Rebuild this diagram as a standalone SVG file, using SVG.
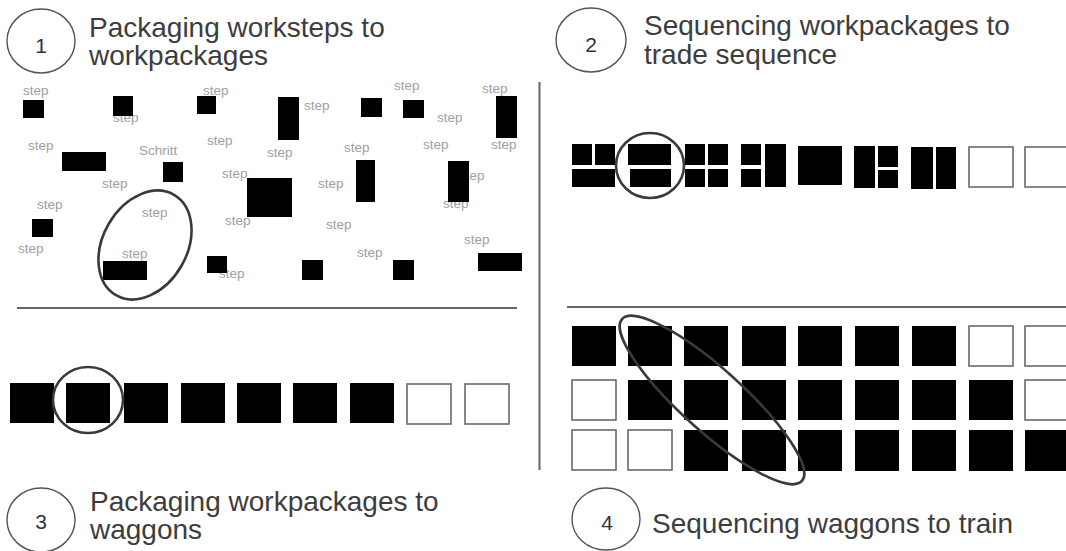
<svg xmlns="http://www.w3.org/2000/svg" width="1066" height="551" viewBox="0 0 1066 551">
<style>
.bg{fill:#ffffff}
.num{fill:none;stroke:#555;stroke-width:1.4}
.numt{font-family:"Liberation Sans",Arial,sans-serif;font-size:21px;fill:#333;text-anchor:middle}
.title{font-family:"Liberation Sans",Arial,sans-serif;font-size:28px;fill:#3d3d3d}
.step{font-family:"Liberation Sans",Arial,sans-serif;font-size:13.5px;fill:#a0a0a0}
.blk{fill:#000}
.wht{fill:#fff;stroke:#6a6a6a;stroke-width:1.6}
.sep{stroke:#666;stroke-width:2;fill:none}
.ring{fill:none;stroke:#3a3a3a;stroke-width:2.6}
</style>
<rect class="bg" x="0" y="0" width="1066" height="551"/>

<g id="header1">
<ellipse class="num" cx="41" cy="41" rx="34" ry="32"/>
<text class="numt" x="41" y="53">1</text>
<text class="title" x="89" y="37">Packaging  worksteps to</text>
<text class="title" x="89" y="65">workpackages</text>
</g>
<g id="header2">
<ellipse class="num" cx="591" cy="40" rx="35" ry="32"/>
<text class="numt" x="591" y="52">2</text>
<text class="title" x="644" y="35">Sequencing workpackages to</text>
<text class="title" x="644" y="64">trade sequence</text>
</g>
<g id="header3">
<ellipse class="num" cx="41" cy="520" rx="34" ry="32"/>
<text class="numt" x="41" y="529">3</text>
<text class="title" x="90" y="511">Packaging workpackages to</text>
<text class="title" x="90" y="539">waggons</text>
</g>
<g id="header4">
<ellipse class="num" cx="606" cy="519" rx="34" ry="31"/>
<text class="numt" x="607" y="530">4</text>
<text class="title" x="652" y="533">Sequencing waggons to train</text>
</g>

<g id="separators">
<line class="sep" x1="17" y1="308" x2="517" y2="308"/>
<line class="sep" x1="567" y1="307" x2="1066" y2="307"/>
<line class="sep" x1="539.5" y1="82" x2="539.5" y2="470"/>
</g>

<g id="panel1">
<g id="steps">
<text class="step" x="23" y="95">step</text>
<text class="step" x="113" y="122">step</text>
<text class="step" x="203" y="95">step</text>
<text class="step" x="28" y="150">step</text>
<text class="step" x="139" y="155">Schritt</text>
<text class="step" x="207" y="145">step</text>
<text class="step" x="222" y="178">step</text>
<text class="step" x="394" y="90">step</text>
<text class="step" x="304" y="110">step</text>
<text class="step" x="437" y="122">step</text>
<text class="step" x="482" y="93">step</text>
<text class="step" x="491" y="149">step</text>
<text class="step" x="423" y="149">step</text>
<text class="step" x="344" y="152">step</text>
<text class="step" x="267" y="157">step</text>
<text class="step" x="459" y="180">step</text>
<text class="step" x="318" y="188">step</text>
<text class="step" x="102" y="188">step</text>
<text class="step" x="37" y="209">step</text>
<text class="step" x="18" y="253">step</text>
<text class="step" x="142" y="217">step</text>
<text class="step" x="122" y="258">step</text>
<text class="step" x="225" y="225">step</text>
<text class="step" x="219" y="278">step</text>
<text class="step" x="326" y="229">step</text>
<text class="step" x="357" y="257">step</text>
<text class="step" x="464" y="244">step</text>
<text class="step" x="443" y="208">step</text>
</g>
<g id="workpackages">
<rect class="blk" x="23" y="100" width="21" height="18"/>
<rect class="blk" x="113" y="96" width="20" height="20"/>
<rect class="blk" x="197" y="96" width="19" height="18"/>
<rect class="blk" x="62" y="152" width="44" height="19"/>
<rect class="blk" x="163" y="162" width="20" height="20"/>
<rect class="blk" x="278" y="97" width="21" height="43"/>
<rect class="blk" x="361" y="98" width="21" height="19"/>
<rect class="blk" x="403" y="100" width="21" height="18"/>
<rect class="blk" x="496" y="96" width="21" height="42"/>
<rect class="blk" x="356" y="160" width="19" height="42"/>
<rect class="blk" x="448" y="161" width="21" height="41"/>
<rect class="blk" x="247" y="178" width="45" height="39"/>
<rect class="blk" x="32" y="219" width="21" height="18"/>
<rect class="blk" x="103" y="261" width="44" height="19"/>
<rect class="blk" x="207" y="256" width="20" height="17"/>
<rect class="blk" x="302" y="260" width="21" height="20"/>
<rect class="blk" x="393" y="260" width="21" height="20"/>
<rect class="blk" x="478" y="253" width="44" height="18"/>
</g>
<ellipse class="ring" cx="145" cy="245" rx="58" ry="42" transform="rotate(-60 145 245)"/>
</g>

<g id="panel2">
<rect class="blk" x="572" y="144" width="20" height="21"/>
<rect class="blk" x="595" y="144" width="20" height="21"/>
<rect class="blk" x="572" y="169" width="43" height="18"/>
<rect class="blk" x="628" y="144" width="43" height="21"/>
<rect class="blk" x="630" y="169" width="41" height="18"/>
<rect class="blk" x="685" y="144" width="20" height="21"/>
<rect class="blk" x="708" y="144" width="20" height="21"/>
<rect class="blk" x="685" y="169" width="20" height="18"/>
<rect class="blk" x="708" y="169" width="20" height="18"/>
<rect class="blk" x="741" y="144" width="20" height="21"/>
<rect class="blk" x="741" y="169" width="20" height="18"/>
<rect class="blk" x="765" y="144" width="21" height="43"/>
<rect class="blk" x="798" y="146" width="44" height="39"/>
<rect class="blk" x="854" y="146" width="21" height="42"/>
<rect class="blk" x="878" y="146" width="20" height="21"/>
<rect class="blk" x="878" y="170" width="20" height="18"/>
<rect class="blk" x="911" y="147" width="22" height="42"/>
<rect class="blk" x="936" y="147" width="20" height="42"/>
<rect class="wht" x="969" y="147" width="44" height="40"/>
<rect class="wht" x="1025" y="147" width="44" height="40"/>
<ellipse class="ring" cx="650" cy="165.5" rx="34" ry="32.5"/>
</g>

<g id="panel3">
<rect class="blk" x="10" y="383" width="44" height="40"/>
<rect class="blk" x="66" y="383" width="44" height="40"/>
<rect class="blk" x="124" y="383" width="44" height="40"/>
<rect class="blk" x="181" y="383" width="44" height="40"/>
<rect class="blk" x="237" y="383" width="44" height="40"/>
<rect class="blk" x="293" y="383" width="44" height="40"/>
<rect class="blk" x="350" y="383" width="44" height="40"/>
<rect class="wht" x="407" y="384" width="44" height="40"/>
<rect class="wht" x="465" y="384" width="44" height="40"/>
<ellipse class="ring" cx="88" cy="400" rx="35" ry="33"/>
</g>

<g id="panel4">
<rect class="blk" x="572" y="326" width="44" height="40"/>
<rect class="blk" x="628" y="326" width="44" height="40"/>
<rect class="blk" x="684" y="326" width="44" height="40"/>
<rect class="blk" x="742" y="326" width="44" height="40"/>
<rect class="blk" x="798" y="326" width="44" height="40"/>
<rect class="blk" x="855" y="326" width="44" height="40"/>
<rect class="blk" x="912" y="326" width="44" height="40"/>
<rect class="wht" x="969" y="326" width="44" height="40"/>
<rect class="wht" x="1025" y="326" width="44" height="40"/>

<rect class="wht" x="572" y="380" width="44" height="40"/>
<rect class="blk" x="628" y="380" width="44" height="40"/>
<rect class="blk" x="684" y="380" width="44" height="40"/>
<rect class="blk" x="742" y="380" width="44" height="40"/>
<rect class="blk" x="798" y="380" width="44" height="40"/>
<rect class="blk" x="855" y="380" width="44" height="40"/>
<rect class="blk" x="912" y="380" width="44" height="40"/>
<rect class="blk" x="969" y="380" width="44" height="40"/>
<rect class="wht" x="1025" y="380" width="44" height="40"/>

<rect class="wht" x="572" y="430" width="44" height="40"/>
<rect class="wht" x="628" y="430" width="44" height="40"/>
<rect class="blk" x="684" y="430" width="44" height="41"/>
<rect class="blk" x="742" y="430" width="44" height="41"/>
<rect class="blk" x="798" y="430" width="44" height="41"/>
<rect class="blk" x="855" y="430" width="44" height="41"/>
<rect class="blk" x="912" y="430" width="44" height="41"/>
<rect class="blk" x="969" y="430" width="44" height="41"/>
<rect class="blk" x="1025" y="430" width="44" height="41"/>
<ellipse class="ring" cx="712" cy="400" rx="121" ry="31" transform="rotate(42 712 400)"/>
</g>
</svg>
